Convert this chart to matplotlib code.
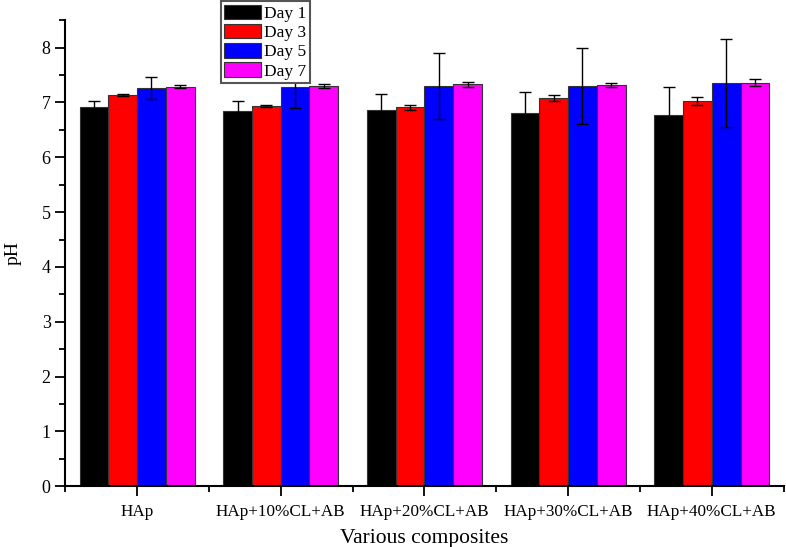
import numpy as np
import matplotlib as mpl
mpl.use('Agg')
import matplotlib.pyplot as plt
from matplotlib.ticker import MultipleLocator, FixedLocator

mpl.rcParams['font.family'] = ['Liberation Serif', 'DejaVu Serif']

# data
composites = ['HAp', 'HAp+10%CL+AB', 'HAp+20%CL+AB', 'HAp+30%CL+AB', 'HAp+40%CL+AB']
series = ['Day 1', 'Day 3', 'Day 5', 'Day 7']
day1 = [6.92, 6.84, 6.86, 6.80, 6.78]
day3 = [7.13, 6.94, 6.91, 7.08, 7.03]
day5 = [7.27, 7.28, 7.30, 7.30, 7.35]
day7 = [7.29, 7.30, 7.33, 7.32, 7.36]
err1 = [0.11, 0.19, 0.30, 0.40, 0.50]
err3 = [0.02, 0.02, 0.04, 0.05, 0.07]
err5 = [0.20, 0.38, 0.60, 0.70, 0.80]
err7 = [0.02, 0.03, 0.04, 0.04, 0.06]

colors = ['black', 'red', 'blue', 'magenta']
values = [day1, day3, day5, day7]
errors = [err1, err3, err5, err7]

x = np.arange(len(composites))
width = 0.2

fig = plt.figure(figsize=(7.86, 5.47), dpi=100)
ax = fig.add_axes([0.083, 0.111, 0.914, 0.852])

for i, (vals, errs, c, lab) in enumerate(zip(values, errors, colors, series)):
    pos = x + (i - 1.5) * width
    ax.bar(pos, vals, width, color=c, edgecolor='#333333', linewidth=0.8, label=lab, zorder=2)
    ax.errorbar(pos, vals, yerr=errs, fmt='none', ecolor='black', elinewidth=1.0,
                capsize=4, capthick=1.0, zorder=3)

ax.set_xlim(-0.5, 4.5)
ax.set_ylim(0, 8.5)
ax.spines['top'].set_visible(False)
ax.spines['right'].set_visible(False)
ax.spines['left'].set_linewidth(1.5)
ax.spines['bottom'].set_linewidth(1.5)

ax.set_xticks(x)
ax.set_xticklabels(composites)
ax.xaxis.set_minor_locator(FixedLocator(np.arange(-0.5, 5, 1)))
ax.yaxis.set_major_locator(MultipleLocator(1))
ax.yaxis.set_minor_locator(MultipleLocator(0.5))
ax.tick_params(axis='both', which='major', direction='out', length=7, width=1.3, labelsize=13)
ax.tick_params(axis='x', which='major', labelsize=12.3, pad=6)
ax.tick_params(axis='both', which='minor', direction='out', length=4, width=1.3)

ax.set_xlabel('Various composites', fontsize=15.5, labelpad=6)
ax.set_ylabel('pH', fontsize=14, labelpad=14)

leg = fig.legend(loc='upper left', bbox_to_anchor=(0.281, 0.998), fontsize=12.5,
                 handlelength=2.1, handleheight=0.9, labelspacing=0.12,
                 borderpad=0.2, handletextpad=0.2, borderaxespad=0,
                 fancybox=False, framealpha=1.0)
leg.get_frame().set_edgecolor('#555555')
leg.get_frame().set_linewidth(1.5)

fig.savefig('out.png', dpi=100)
